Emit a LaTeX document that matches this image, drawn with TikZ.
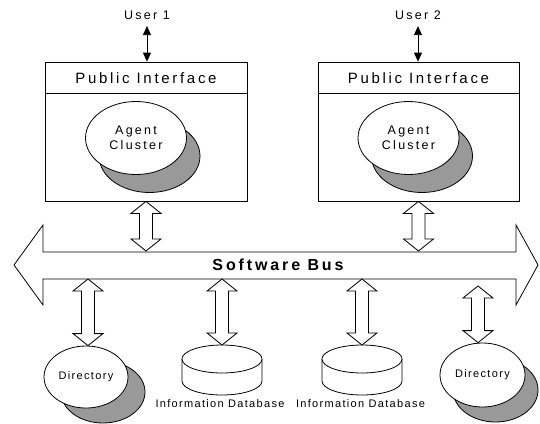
\documentclass[tikz,border=0pt]{standalone}
\usepackage{fontspec}
\setmainfont{Liberation Sans}
\newfontfamily\lsA[LetterSpace=18]{Liberation Sans}
\newfontfamily\lsB[LetterSpace=12]{Liberation Sans}
\usetikzlibrary{arrows.meta,shapes.geometric,shadows,calc}
\tikzset{
  base/.style={line width=0.8pt},
  boxnode/.style={base, draw, rectangle, minimum width=202pt, minimum height=139pt, inner sep=0pt},
  pitext/.style={inner sep=0pt, font=\lsA\fontsize{15}{18}\selectfont},
  usertext/.style={inner sep=6pt, font=\lsA\fontsize{12.5}{15}\selectfont},
  cloud/.style={base, draw, ellipse, fill=white, inner sep=0pt, align=center},
  agentfont/.style={font=\lsA\fontsize{12.5}{15}\selectfont},
  dirfont/.style={font=\lsB\fontsize{11}{13}\selectfont},
  dbtext/.style={inner sep=0pt, font=\lsB\fontsize{11}{13}\selectfont},
  usrarrow/.style={base, {Triangle[length=9pt,width=8pt]}-{Triangle[length=9pt,width=8pt]}},
  hollow/.style={base, draw, fill=white, to path={
    let \p1=(\tikztostart), \p2=(\tikztotarget) in
    -- (\x1-15pt,\y1-12pt) -- (\x1-6.5pt,\y1-12pt) -- (\x1-6.5pt,\y2+12pt)
    -- (\x1-15pt,\y2+12pt) -- (\x1,\y2) -- (\x1+15pt,\y2+12pt)
    -- (\x1+6.5pt,\y2+12pt) -- (\x1+6.5pt,\y1-12pt) -- (\x1+15pt,\y1-12pt) -- cycle}},
}
\begin{document}
\begin{tikzpicture}[x=1pt,y=1pt]
\useasboundingbox (0,0) rectangle (540,-423);

% users
\node[usertext] (user1) at (147,-15.5) {User 1};
\node[usertext] (user2) at (418,-15.5) {User 2};

% boxes
\node[boxnode] (box1) at (146,-131.5) {};
\node[boxnode, minimum width=201pt] (box2) at (418.5,-131.5) {};
\coordinate (d1l) at (45,-93);
\coordinate (d1r) at (247,-93);
\coordinate (d2l) at (318,-93);
\coordinate (d2r) at (519,-93);
\draw[base] (d1l) -- (d1r);
\draw[base] (d2l) -- (d2r);
\node[pitext] (pi1) at (146,-78) {Public Interface};
\node[pitext] (pi2) at (418.5,-78) {Public Interface};

\draw[usrarrow] (user1.south) -- (user1.south |- box1.north);
\draw[usrarrow] (user2.south) -- (user2.south |- box2.north);

% agent clusters
\node[cloud, agentfont, minimum width=101pt, minimum height=73pt,
  copy shadow={shadow xshift=13.5pt, shadow yshift=-18pt, fill=black!40, draw=black, line width=0.8pt}]
  (ag1) at (136,-138) {Agent\\Cluster};
\node[cloud, agentfont, minimum width=101pt, minimum height=73pt,
  copy shadow={shadow xshift=13.5pt, shadow yshift=-18pt, fill=black!40, draw=black, line width=0.8pt}]
  (ag2) at (408.5,-138) {Agent\\Cluster};

% software bus
\draw[base, fill=white] (14,-265) -- (43,-225) -- (43,-252) -- (516,-252) -- (516,-225)
  -- (538,-265) -- (516,-305) -- (516,-279) -- (43,-279) -- (43,-305) -- cycle;
\node[inner sep=0pt, font=\bfseries\lsA\fontsize{16}{19}\selectfont] (bus) at (278,-265) {Software Bus};

\coordinate (bt1) at (145,-251);
\coordinate (bt2) at (418,-251);
\coordinate (bb1) at (88,-279);
\coordinate (bb2) at (222,-279);
\coordinate (bb3) at (362,-279);
\coordinate (bb4) at (478,-286);

\draw[hollow] (box1.south) to (bt1);
\draw[hollow] (box2.south) to (bt2);

% directories
\node[cloud, dirfont, minimum width=84pt, minimum height=62pt,
  copy shadow={shadow xshift=17pt, shadow yshift=-15pt, fill=black!40, draw=black, line width=0.8pt}]
  (dir1) at (86,-377) {Directory};
\node[cloud, dirfont, minimum width=85pt, minimum height=64pt,
  copy shadow={shadow xshift=13pt, shadow yshift=-15pt, fill=black!40, draw=black, line width=0.8pt}]
  (dir2) at (482.5,-375) {Directory};

% databases
\coordinate (db1) at (222,-345);
\coordinate (db2) at (362,-345);
\foreach \c/\n in {222/db1, 362/db2}{
  \draw[base, fill=white] (\c-40,-359) -- (\c-40,-381)
    arc[start angle=180, end angle=360, x radius=40, y radius=14] -- (\c+40,-359);
  \draw[base, fill=white] (\c,-359) ellipse[x radius=40, y radius=14];
}
\node[dbtext] (dbl1) at (220,-404) {Information Database};
\node[dbtext] (dbl2) at (360.5,-404) {Information Database};

\draw[hollow] (bb1) to (dir1.north);
\draw[hollow] (bb2) to (db1);
\draw[hollow] (bb3) to (db2);
\draw[hollow] (bb4) to (dir2.north);
\end{tikzpicture}
\end{document}
